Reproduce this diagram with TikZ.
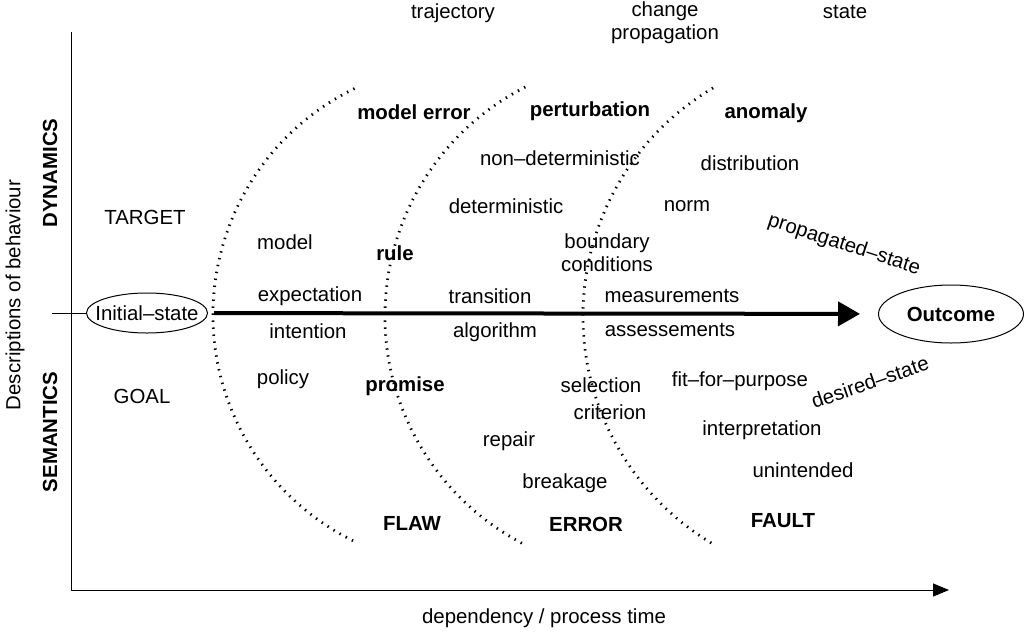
\documentclass[tikz,border=0pt]{standalone}
\usepackage{fontspec}
\setmainfont{Liberation Sans}
\usetikzlibrary{shapes.geometric,arrows.meta}
\tikzstyle{lbl} = [font={\fontsize{10.2}{11.6}\selectfont}, inner sep=1pt, align=center]
\tikzstyle{key} = [font={\fontsize{10.2}{11.6}\selectfont\bfseries}, inner sep=1pt]
\tikzstyle{state} = [draw, ellipse, line width=0.5pt, inner sep=0pt]
\tikzstyle{boundary} = [line width=1.4pt, dash pattern=on 0.7pt off 2.8pt]
\tikzstyle{axis} = [line width=0.5pt, -{Triangle[length=8pt,width=6.5pt]}]
\begin{document}
\begin{tikzpicture}[x=0.5pt,y=-0.5pt]
    \useasboundingbox (0,0) rectangle (1024,633);
    \coordinate (origin) at (71,590);
    \coordinate (ytop) at (71,32);
    \coordinate (xend) at (949,590);
    \coordinate (tick) at (52,313);
    \draw[line width=0.5pt](origin)--(ytop);
    \draw[axis](origin)--(xend);
    \node[lbl,rotate=90](yaxis) at (15,295){Descriptions of behaviour};
    \node[lbl](xaxis) at (544,618){dependency / process time};
    \node[key,rotate=90](dynamics) at (50,173){DYNAMICS};
    \node[key,rotate=90](semantics) at (50,432){SEMANTICS};
    \node[lbl,state,inner xsep=-4.4pt,minimum width=60.5pt,minimum height=20pt](init) at (147,313){Initial--state};
    \node[key,state,minimum width=72.5pt,minimum height=29pt](outcome) at (951,314){Outcome};
    \draw[line width=0.5pt](tick)--(init);
    \draw[line width=2pt,-{Triangle[length=11pt,width=12pt]},shorten <=3pt,shorten >=9pt](init)--(outcome);
    \draw[boundary](465,315) ++(244:252) arc[start angle=244,end angle=116,radius=252];
    \draw[boundary](642,316) ++(243:257) arc[start angle=243,end angle=117,radius=257];
    \draw[boundary](848,316) ++(239.4:265) arc[start angle=239.4,end angle=120.6,radius=265];
    \node[lbl](trajectory) at (453,13){trajectory};
    \node[lbl](change) at (665,23){change\\propagation};
    \node[lbl](state) at (845,12){state};
    \node[key](modelerror) at (414,112){model error};
    \node[key](perturbation) at (590,111){perturbation};
    \node[key](anomaly) at (766,113){anomaly};
    \node[lbl](nondet) at (560,158){non--deterministic};
    \node[lbl](distribution) at (750,163){distribution};
    \node[lbl](det) at (506,206){deterministic};
    \node[lbl](norm) at (687,206){norm};
    \node[lbl,rotate=-18](propagated) at (844,245){propagated--state};
    \node[lbl](target) at (145,217){TARGET};
    \node[lbl](model) at (285,242){model};
    \node[key](rule) at (395,253){rule};
    \node[lbl](boundary) at (607,253){boundary\\conditions};
    \node[lbl](expectation) at (310,296){expectation};
    \node[lbl](transition) at (490,296){transition};
    \node[lbl](measurements) at (672,296){measurements};
    \node[lbl](intention) at (308,331){intention};
    \node[lbl](algorithm) at (495,332){algorithm};
    \node[lbl](assessements) at (670,330){assessements};
    \node[lbl](policy) at (283,379){policy};
    \node[key](promise) at (405,386){promise};
    \node[lbl](selection) at (601,385){selection};
    \node[lbl](criterion) at (610,412){criterion};
    \node[lbl](fit) at (740,381){fit--for--purpose};
    \node[lbl,rotate=19](desired) at (870,382){desired--state};
    \node[lbl](goal) at (142,396){GOAL};
    \node[lbl](repair) at (509,441){repair};
    \node[lbl](interpretation) at (762,430){interpretation};
    \node[lbl](breakage) at (565,483){breakage};
    \node[lbl](unintended) at (803,470){unintended};
    \node[key](flaw) at (412,523){FLAW};
    \node[key](error) at (586,524){ERROR};
    \node[key](fault) at (783,521){FAULT};
  \end{tikzpicture}
\end{document}
